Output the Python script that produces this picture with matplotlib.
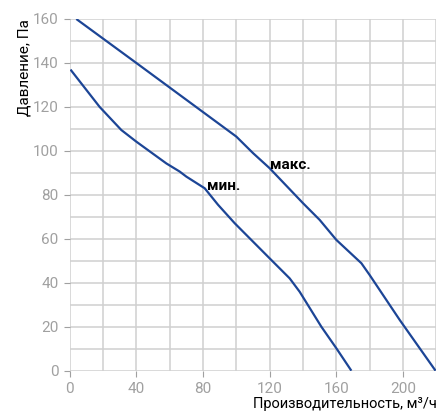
import matplotlib
matplotlib.use("Agg")
import matplotlib.pyplot as plt

# Кривые вентилятора: производительность (м³/ч) и давление (Па)
max_flow = [4, 40, 100, 110, 120, 140, 150, 160, 175, 180, 198, 219.5]
max_pressure = [160, 140, 106.5, 99, 92.1, 76.2, 68.6, 59.5, 48.9, 43.5, 23.1, 0]

min_flow = [0.5, 18, 31, 40, 58, 66, 70, 81, 89, 99, 120, 132, 138, 151, 160, 169]
min_pressure = [137, 120, 109.5, 104.2, 94.3, 90.6, 88.3, 83, 75.5, 67.1, 51.1, 42, 35.9, 20, 10.2, 0]

x_ticks = [0, 40, 80, 120, 160, 200]
y_ticks = [0, 20, 40, 60, 80, 100, 120, 140, 160]

line_color = "#1c4596"
grid_color = "#d0d0d0"
tick_color = "#a0a0a0"

plt.rcParams['font.family'] = ['Roboto', 'DejaVu Sans']

fig = plt.figure(figsize=(4.38, 4.13), dpi=100)
ax = fig.add_axes([0.159, 0.1024, 0.8373, 0.8516])

ax.plot(max_flow, max_pressure, color=line_color, lw=1.6, solid_capstyle='butt')
ax.plot(min_flow, min_pressure, color=line_color, lw=1.6, solid_capstyle='butt')

ax.text(120, 93.6, "макс.", fontsize=11, fontweight='bold', va='center', ha='left')
ax.text(82.5, 84, "мин.", fontsize=11, fontweight='bold', va='center', ha='left')

ax.set_xlim(0, 220)
ax.set_ylim(0, 160)
ax.set_xticks(x_ticks)
ax.set_yticks(y_ticks)
ax.set_xticks(range(0, 221, 20), minor=True)
ax.set_yticks(range(0, 161, 10), minor=True)
ax.grid(True, which='both', color=grid_color, lw=1.1)
ax.set_axisbelow(True)

for s in ax.spines.values():
    s.set_visible(False)

ax.tick_params(which='major', colors=tick_color, labelsize=11, length=4, width=0.8, pad=4)
ax.tick_params(which='minor', length=0)

ax.set_xlabel("Производительность, м³/ч", fontsize=10.5, loc='right', labelpad=1)
ax.set_ylabel("Давление, Па", fontsize=11, loc='top', labelpad=1)

fig.savefig("out.png", dpi=100)
